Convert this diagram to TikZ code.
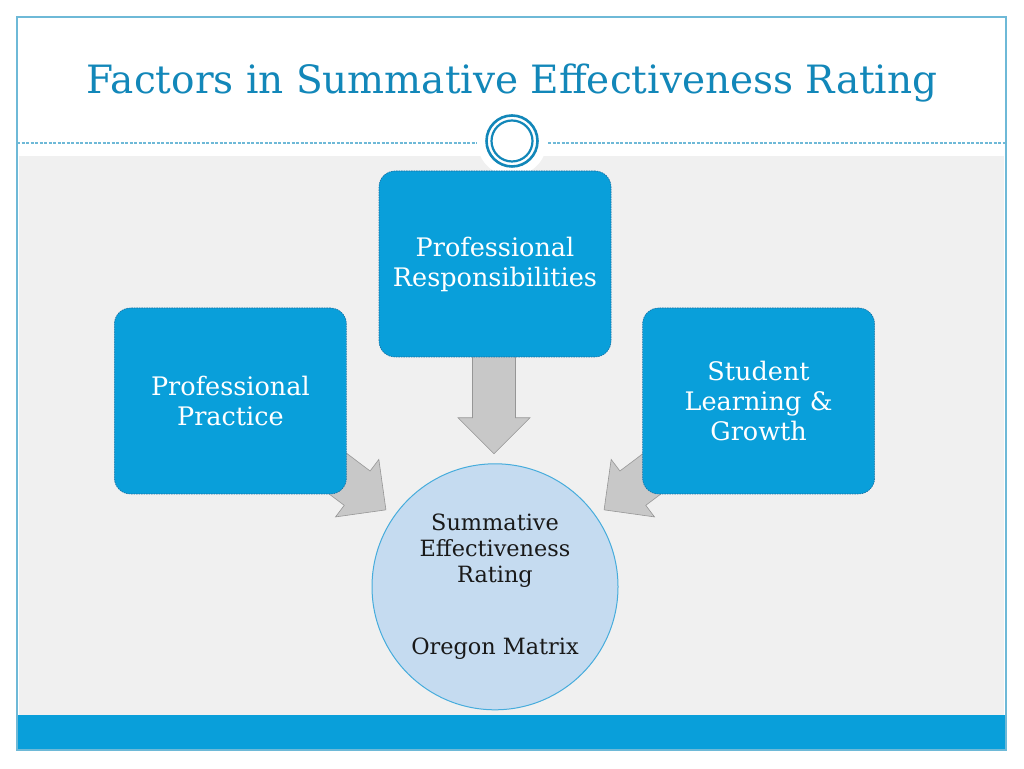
\documentclass[tikz,border=0pt]{standalone}
\usepackage{fontspec}
\setmainfont{DejaVu Serif}
\usetikzlibrary{positioning,calc}
\pgfdeclarelayer{bg}
\pgfdeclarelayer{arrows}
\pgfsetlayers{bg,arrows,main}
\definecolor{titleblue}{RGB}{18,135,185}
\definecolor{boxblue}{RGB}{9,159,218}
\definecolor{boxedge}{RGB}{25,110,160}
\definecolor{frameblue}{RGB}{110,185,215}
\definecolor{ratingfill}{RGB}{197,219,240}
\definecolor{ratingedge}{RGB}{70,172,220}
\definecolor{panel}{RGB}{240,240,240}
\definecolor{arrowfill}{RGB}{200,200,200}
\definecolor{arrowedge}{RGB}{150,150,150}

\begin{document}
\begin{tikzpicture}[x=1pt,y=1pt]
\tikzset{
    factor/.style={rectangle, draw=boxedge, line width=0.6pt, dash pattern=on 1.5pt off 1pt, fill=boxblue, text=white, text width=220pt, align=center, minimum width=232pt, minimum height=186pt, rounded corners=16pt, font=\fontsize{25.5}{30}\selectfont},
    summary/.style={circle, draw=ratingedge, line width=1pt, fill=ratingfill, inner sep=0pt, minimum size=246pt, align=center, text=black!90, font=\fontsize{22.4}{26}\selectfont},
    flow/.style={fill=arrowfill, draw=arrowedge, line width=0.6pt, line join=miter},
    pics/blockarrow/.style={code={\draw[flow] (-#1,-21.5) -- (-36,-21.5) -- (-36,-36) -- (0,0) -- (-36,36) -- (-36,21.5) -- (-#1,21.5) -- cycle;}}
}
\useasboundingbox (0,0) rectangle (1024,768);

% slide frame
\begin{pgfonlayer}{bg}
\fill[white] (0,0) rectangle (1024,768);
\fill[panel] (19,53) rectangle (1004,612);
\fill[boxblue] (17,18) rectangle (1006,53);
\draw[frameblue, line width=1.4pt] (17,18) rectangle (1006,751);
\draw[frameblue, line width=1.3pt, dash pattern=on 3pt off 1.5pt] (17,625) -- (1006,625);
\fill[white] (512,627) circle (35);
\draw[titleblue, line width=2.6pt] (512,627) circle (25.5);
\draw[titleblue, line width=2.2pt] (512,627) circle (20.5);
\end{pgfonlayer}

\node[titleblue, anchor=base, font=\fontsize{39}{46}\selectfont] (title) at (512,674) {Factors in Summative Effectiveness Rating};

% the three factors
\node[factor] (pr) at (495,504) {Professional\\Responsibilities};
\node[factor, left=32pt of pr, yshift=-137pt] (pp) {Professional\\Practice};
\node[factor, right=31pt of pr, yshift=-137pt] (slg) {Student\\Learning \&\\Growth};

\node[summary, below=106pt of pr] (summ) {Summative\\Effectiveness\\Rating\\[46pt]Oregon Matrix};

% block arrows into the rating
\coordinate (tipT) at ($(summ.center)+(-1,133)$);
\coordinate (tipL) at ($(summ.center)+(144.8:133.5)$);
\coordinate (tipR) at ($(summ.center)+(35.2:133.5)$);
\begin{pgfonlayer}{arrows}
\pic[rotate=-90] at (tipT) {blockarrow=108};
\pic[rotate=-37] at (tipL) {blockarrow=100};
\pic[rotate=-143] at (tipR) {blockarrow=100};
\end{pgfonlayer}
\end{tikzpicture}
\end{document}
